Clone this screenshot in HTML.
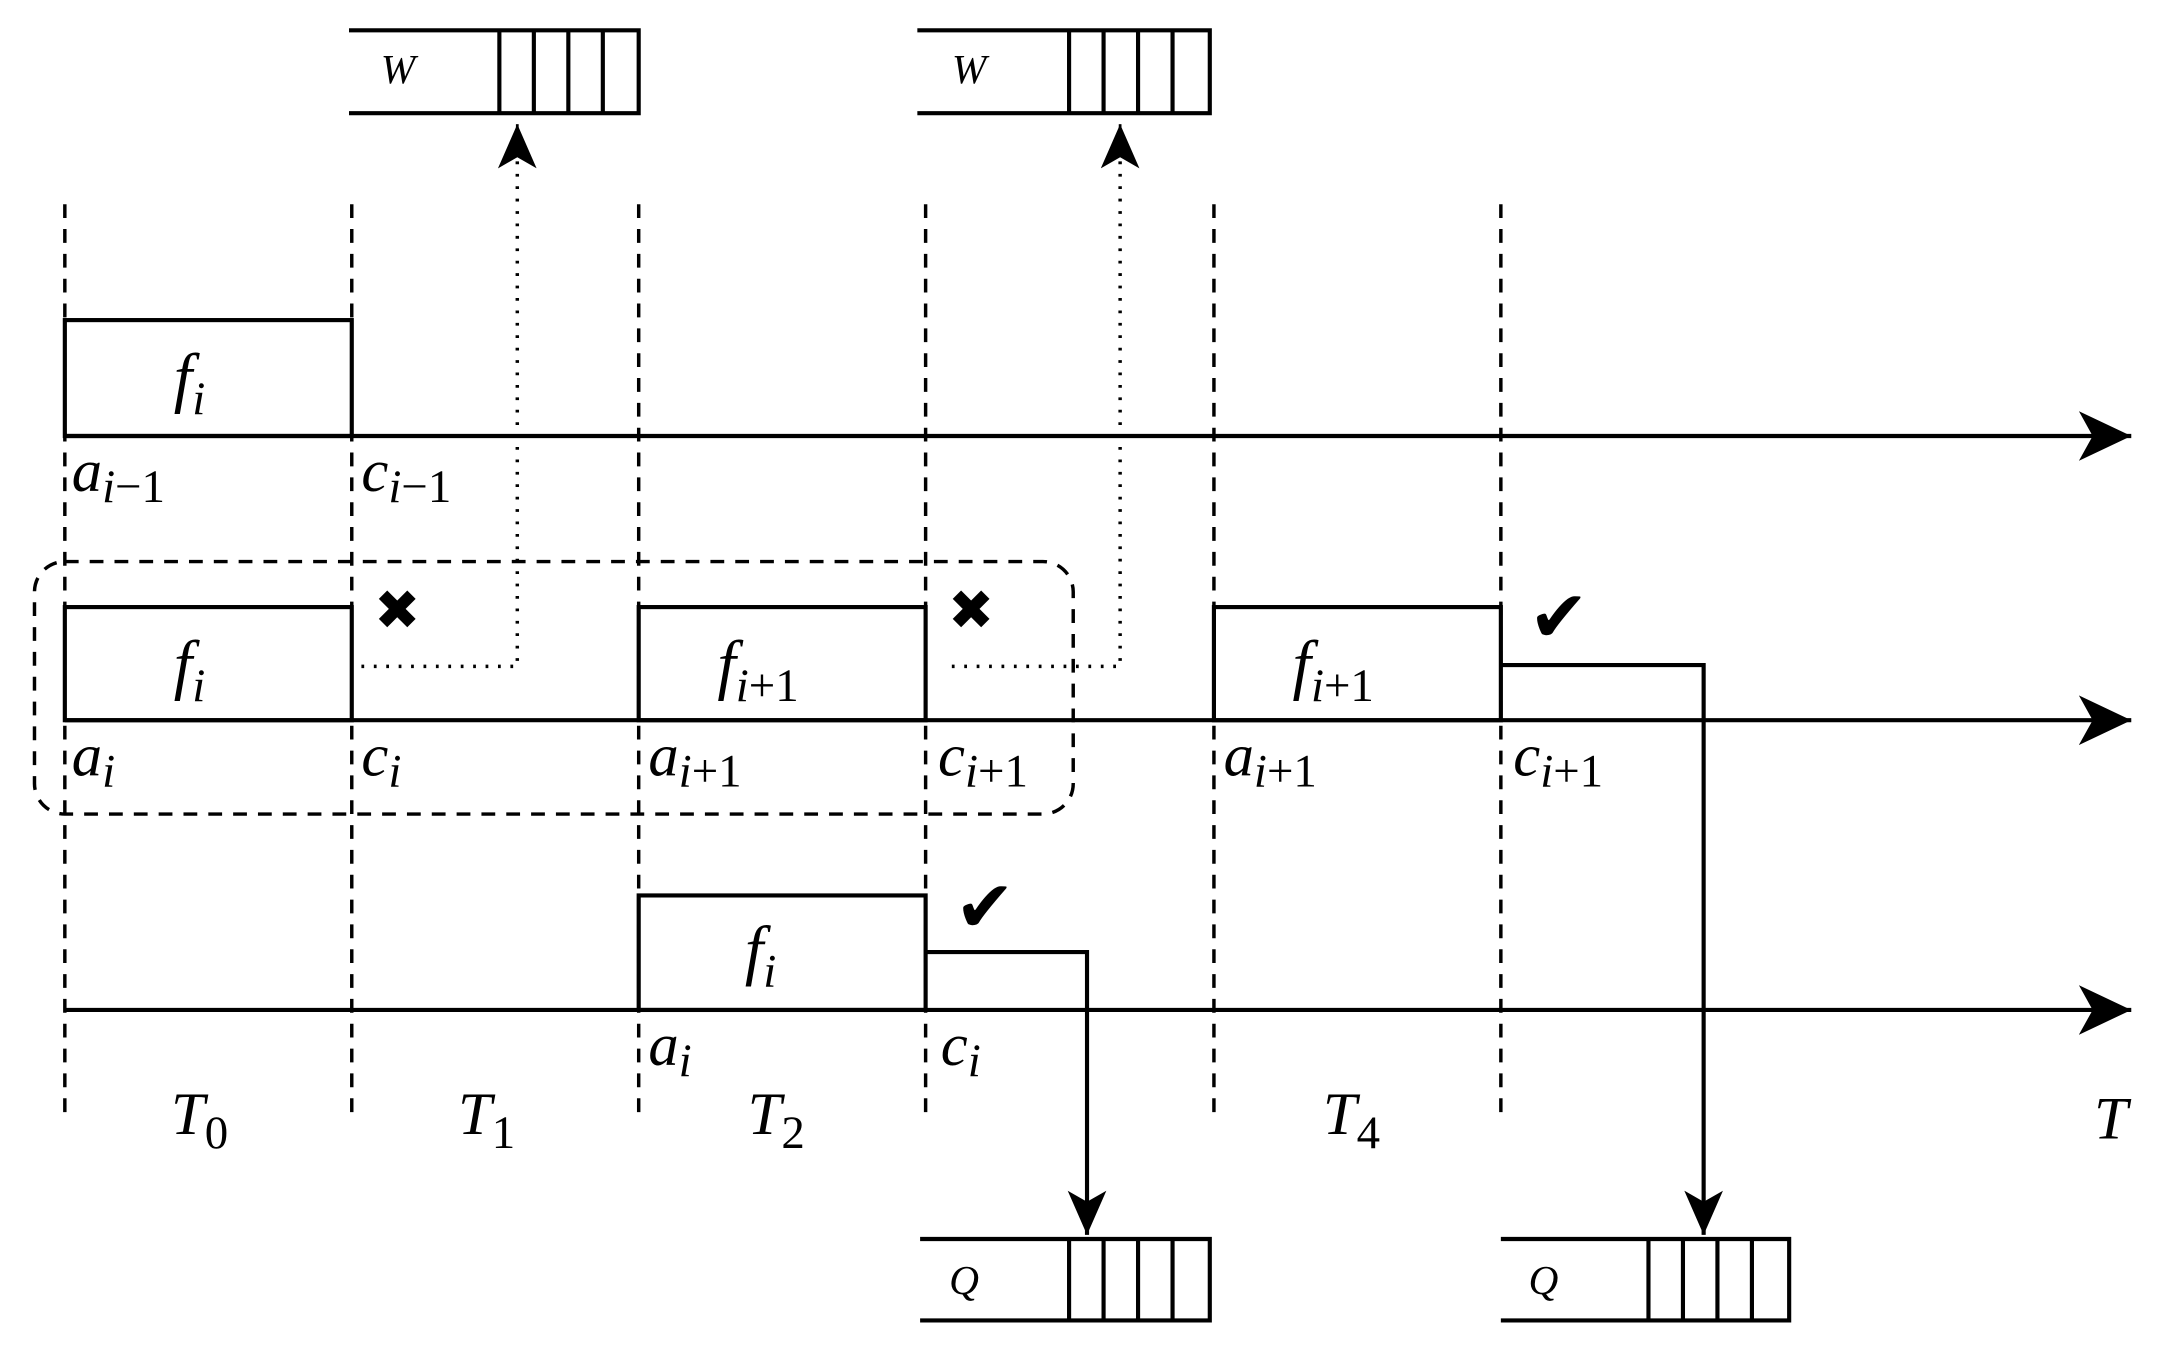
<!DOCTYPE html>
<html><head><meta charset="utf-8"><style>
html,body{margin:0;padding:0;background:#fff;}
svg{display:block;}
</style></head><body>
<svg width="2163" height="1348" viewBox="0 0 1568 977" preserveAspectRatio="none" xmlns="http://www.w3.org/2000/svg" font-family="'Liberation Serif', serif" font-style="italic">
<defs>
<marker id="big" markerWidth="40" markerHeight="36" refX="38" refY="18" orient="auto" markerUnits="userSpaceOnUse"><path d="M0,0 L38,18 L0,36 L10,18 z" fill="#000"/></marker>
<marker id="dn" markerWidth="28" markerHeight="34" refX="14" refY="32" orient="0" markerUnits="userSpaceOnUse"><path d="M0,0 L14,32 L28,0 L14,8 z" fill="#000"/></marker>
<marker id="up" markerWidth="28" markerHeight="34" refX="14" refY="2" orient="0" markerUnits="userSpaceOnUse"><path d="M0,34 L14,2 L28,34 L14,26 z" fill="#000"/></marker>
</defs>
<g stroke="#000" stroke-width="3" fill="none">
<g stroke-dasharray="10,8" stroke-width="2.5">
<line x1="47" y1="148" x2="47" y2="810"/>
<line x1="255" y1="148" x2="255" y2="810"/>
<line x1="463" y1="148" x2="463" y2="810"/>
<line x1="671" y1="148" x2="671" y2="810"/>
<line x1="880" y1="148" x2="880" y2="810"/>
<line x1="1088" y1="148" x2="1088" y2="810"/>
<rect x="25" y="407" width="753" height="183" rx="22"/>
</g>
<line x1="47" y1="316" x2="1545" y2="316" marker-end="url(#big)"/>
<line x1="47" y1="522" x2="1545" y2="522" marker-end="url(#big)"/>
<line x1="47" y1="732" x2="1545" y2="732" marker-end="url(#big)"/>
<rect x="47" y="232" width="208" height="84"/>
<rect x="47" y="440" width="208" height="82"/>
<rect x="463" y="440" width="208" height="82"/>
<rect x="880" y="440" width="208" height="82"/>
<rect x="463" y="649" width="208" height="83"/>
<path d="M253,22 H463 V82 H253 M362,22 V82 M387,22 V82 M412,22 V82 M437,22 V82"/>
<path d="M665,22 H877 V82 H665 M775,22 V82 M800,22 V82 M825,22 V82 M850,22 V82"/>
<path d="M667,898 H877 V957 H667 M775,898 V957 M800,898 V957 M825,898 V957 M850,898 V957"/>
<path d="M1088,898 H1297 V957 H1088 M1195,898 V957 M1220,898 V957 M1245,898 V957 M1270,898 V957"/>
<g stroke-width="2.5" stroke-dasharray="2,7">
<path d="M262,483 H375 V100"/>
<path d="M690,483 H812 V100"/>
</g>
<path d="M375,100 V90" marker-end="url(#up)" stroke-width="2"/>
<path d="M812,100 V90" marker-end="url(#up)" stroke-width="2"/>
<path d="M1088,482 H1235 V895" marker-end="url(#dn)"/>
<path d="M671,690 H788 V895" marker-end="url(#dn)"/>
</g>
<g font-family="'DejaVu Sans', sans-serif" font-style="normal" text-anchor="middle">
<text x="288" y="456" font-size="40">✖</text>
<text x="704" y="456" font-size="40">✖</text>
<text x="1130" y="465" font-size="52">✔</text>
<text x="714" y="675" font-size="52">✔</text>
</g>
<g font-size="48">
<text x="126" y="290">f<tspan font-size="34" dy="10">i</tspan></text>
<text x="126" y="498">f<tspan font-size="34" dy="10">i</tspan></text>
<text x="520" y="498">f<tspan font-size="34" dy="10">i</tspan><tspan font-size="34" font-style="normal">+1</tspan></text>
<text x="937" y="498">f<tspan font-size="34" dy="10">i</tspan><tspan font-size="34" font-style="normal">+1</tspan></text>
<text x="540" y="705">f<tspan font-size="34" dy="10">i</tspan></text>
</g>
<g font-size="44">
<text x="52" y="356">a<tspan font-size="34" dy="8">i</tspan><tspan font-size="34" font-style="normal">−1</tspan></text>
<text x="262" y="356">c<tspan font-size="34" dy="8">i</tspan><tspan font-size="34" font-style="normal">−1</tspan></text>
<text x="52" y="562">a<tspan font-size="34" dy="8">i</tspan></text>
<text x="262" y="562">c<tspan font-size="34" dy="8">i</tspan></text>
<text x="470" y="562">a<tspan font-size="34" dy="8">i</tspan><tspan font-size="34" font-style="normal">+1</tspan></text>
<text x="680" y="562">c<tspan font-size="34" dy="8">i</tspan><tspan font-size="34" font-style="normal">+1</tspan></text>
<text x="887" y="562">a<tspan font-size="34" dy="8">i</tspan><tspan font-size="34" font-style="normal">+1</tspan></text>
<text x="1097" y="562">c<tspan font-size="34" dy="8">i</tspan><tspan font-size="34" font-style="normal">+1</tspan></text>
<text x="470" y="772">a<tspan font-size="34" dy="8">i</tspan></text>
<text x="682" y="772">c<tspan font-size="34" dy="8">i</tspan></text>
<text x="124" y="822">T<tspan font-size="34" dy="10" font-style="normal">0</tspan></text>
<text x="332" y="822">T<tspan font-size="34" dy="10" font-style="normal">1</tspan></text>
<text x="542" y="822">T<tspan font-size="34" dy="10" font-style="normal">2</tspan></text>
<text x="959" y="822">T<tspan font-size="34" dy="10" font-style="normal">4</tspan></text>
<text x="1518" y="825">T</text>
</g>
<g font-size="30">
<text x="276" y="60">W</text>
<text x="690" y="60">W</text>
<text x="688" y="938">Q</text>
<text x="1108" y="938">Q</text>
</g>
</svg>
</body></html>
